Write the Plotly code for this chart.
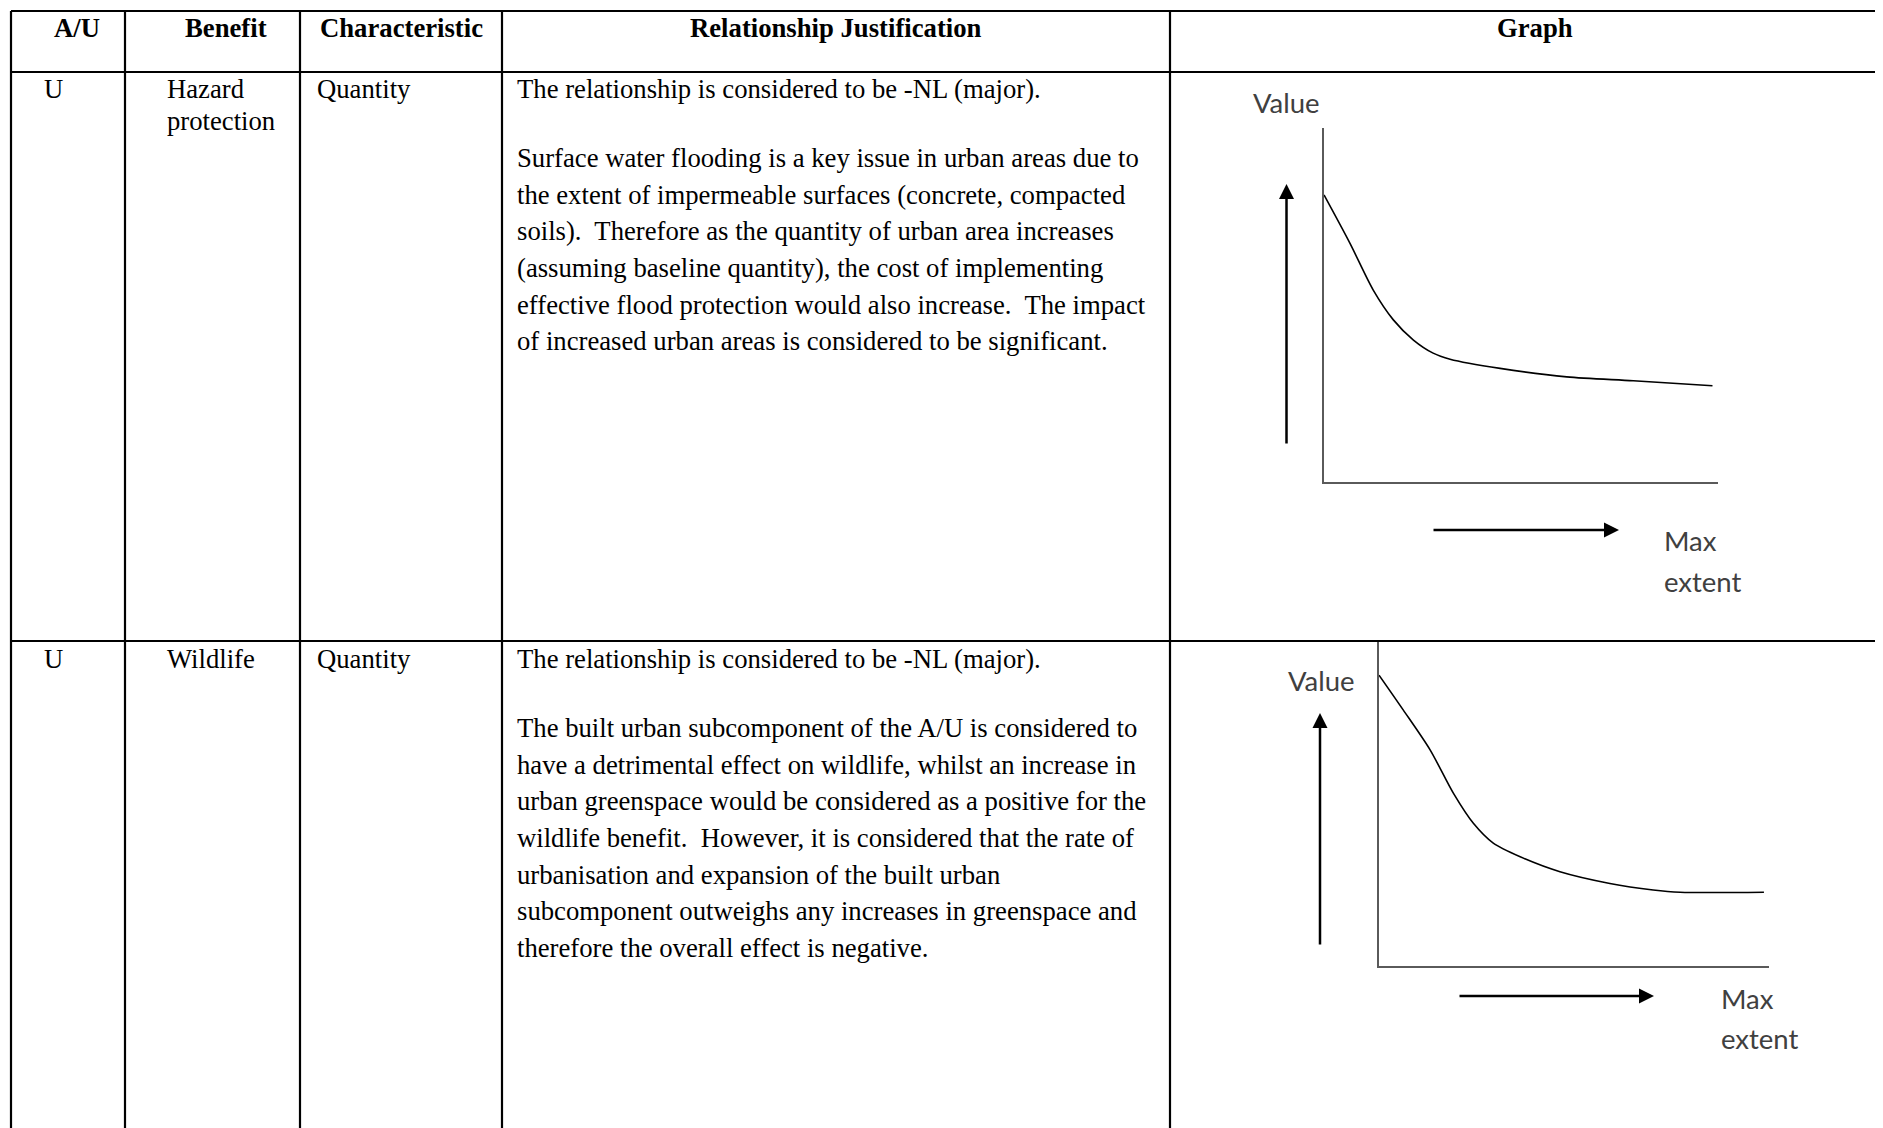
import plotly.graph_objects as go

W, H = 1883, 1128
OFF = 8  # default page margin of the html body

# ---------------- data ----------------
headers = ["A/U", "Benefit", "Characteristic", "Relationship Justification", "Graph"]
row_au = ["U", "U"]
row_benefit = [["Hazard", "protection"], ["Wildlife"]]
row_characteristic = ["Quantity", "Quantity"]
row1_first = "The relationship is considered to be -NL (major)."
row1_para = [
    "Surface water flooding is a key issue in urban areas due to",
    "the extent of impermeable surfaces (concrete, compacted",
    "soils).  Therefore as the quantity of urban area increases",
    "(assuming baseline quantity), the cost of implementing",
    "effective flood protection would also increase.  The impact",
    "of increased urban areas is considered to be significant.",
]
row2_first = "The relationship is considered to be -NL (major)."
row2_para = [
    "The built urban subcomponent of the A/U is considered to",
    "have a detrimental effect on wildlife, whilst an increase in",
    "urban greenspace would be considered as a positive for the",
    "wildlife benefit.  However, it is considered that the rate of",
    "urbanisation and expansion of the built urban",
    "subcomponent outweighs any increases in greenspace and",
    "therefore the overall effect is negative.",
]
y_label = "Value"
x_label = ["Max", "extent"]

# hazard protection curve (extent fraction, value fraction)
g1_x = [0.0, 0.066, 0.125, 0.176, 0.227, 0.277, 0.320, 0.447, 0.616, 0.785, 0.986]
g1_y = [0.811, 0.674, 0.542, 0.458, 0.401, 0.364, 0.347, 0.321, 0.297, 0.286, 0.272]
# wildlife curve
g2_x = [0.0, 0.062, 0.131, 0.191, 0.242, 0.293, 0.362, 0.464, 0.592, 0.703, 0.772, 0.987]
g2_y = [0.895, 0.788, 0.665, 0.531, 0.439, 0.378, 0.336, 0.290, 0.254, 0.234, 0.227, 0.227]

# ---------------- helpers ----------------
def px(x):
    return (x - OFF) / W

def py(y):
    return 1 - (y - OFF) / H

SERIF = "Liberation Serif, Times New Roman, serif"
SANS = "Lato, Carlito, Calibri, sans-serif"
FS = 26.7
GS = 27.5

fig = go.Figure()
annotations = []
shapes = []

def text(x, y, s, anchor="left", font=SERIF, size=FS, color="black"):
    annotations.append(dict(
        x=px(x), y=py(y), xref="paper", yref="paper", text=s, showarrow=False,
        xanchor=anchor, yanchor="middle", font=dict(family=font, size=size, color=color),
    ))

def hline(y, x0, x1, w=2.2, c="black"):
    shapes.append(dict(type="line", xref="paper", yref="paper", x0=px(x0), x1=px(x1),
                       y0=py(y), y1=py(y), line=dict(color=c, width=w)))

def vline(x, y0, y1, w=2.2, c="black"):
    shapes.append(dict(type="line", xref="paper", yref="paper", x0=px(x), x1=px(x),
                       y0=py(y0), y1=py(y1), line=dict(color=c, width=w)))

def arrow(hx, hy, tx, ty):
    annotations.append(dict(
        x=px(hx), y=py(hy), xref="paper", yref="paper", ax=tx - hx, ay=ty - hy,
        axref="pixel", ayref="pixel", showarrow=True, arrowhead=2, arrowsize=1.2,
        arrowwidth=2.5, arrowcolor="black", text="",
    ))

# ---------------- table grid ----------------
cols = [11, 125, 300, 502, 1170]
for cx in cols:
    vline(cx, 11, H + 20)
for ry in [11, 72, 641]:
    hline(ry, 11, W + 20)

# headers
header_cx = [77, 226, 401, 836, 1535]
for cx, h in zip(header_cx, headers):
    text(cx, 28, "<b>" + h + "</b>", anchor="center")

# rows
row_top = [89, 659]
for i in range(2):
    y0 = row_top[i]
    text(41.5, y0, row_au[i])
    for k, b in enumerate(row_benefit[i]):
        text(164.5, y0 + 32 * k, b)
    text(314.5, y0, row_characteristic[i])

just = [(row1_first, row1_para), (row2_first, row2_para)]
for i, (first, para) in enumerate(just):
    y0 = row_top[i]
    text(515, y0, first)
    for k, line in enumerate(para):
        text(515, y0 + 69 + 36.65 * k, line)

# ---------------- graphs ----------------
graphs = [
    dict(ox=1324, oy=482, xe=1718, yt=128, cx=g1_x, cy=g1_y, ax="",
         up=(1286.5, 184, 445), right=(530, 1432, 1619),
         vlab=(1251, 102), mlab=(1662, 541)),
    dict(ox=1379, oy=966, xe=1769, yt=641, cx=g2_x, cy=g2_y, ax="2",
         up=(1320, 713, 946), right=(996, 1458, 1654),
         vlab=(1286, 680), mlab=(1719, 998)),
]

layout_axes = {}
for g in graphs:
    fig.add_trace(go.Scatter(
        x=g["cx"], y=g["cy"], mode="lines", xaxis="x" + g["ax"], yaxis="y" + g["ax"],
        line=dict(color="black", width=1.6, shape="spline", smoothing=0.8),
        showlegend=False, hoverinfo="skip", cliponaxis=False,
    ))
    common = dict(range=[0, 1], showgrid=False, zeroline=False, showticklabels=False,
                  ticks="", showline=True, linecolor="#5a5a5a", linewidth=2, fixedrange=True)
    layout_axes["xaxis" + g["ax"]] = dict(common, domain=[px(g["ox"]), px(g["xe"])],
                                          anchor="y" + g["ax"])
    layout_axes["yaxis" + g["ax"]] = dict(common, domain=[py(g["oy"]), py(g["yt"])],
                                          anchor="x" + g["ax"])
    ux, utip, utail = g["up"]
    arrow(ux, utip, ux, utail)
    ry_, rtail, rtip = g["right"]
    arrow(rtip, ry_, rtail, ry_)
    text(g["vlab"][0], g["vlab"][1], y_label, font=SANS, size=GS, color="#404040")
    text(g["mlab"][0], g["mlab"][1], x_label[0], font=SANS, size=GS, color="#404040")
    text(g["mlab"][0], g["mlab"][1] + 40, x_label[1], font=SANS, size=GS, color="#404040")

fig.update_layout(
    width=W, height=H, margin=dict(l=0, r=0, t=0, b=0),
    paper_bgcolor="white", plot_bgcolor="white",
    annotations=annotations, shapes=shapes, showlegend=False,
    **layout_axes,
)

fig.write_html("out.html")
